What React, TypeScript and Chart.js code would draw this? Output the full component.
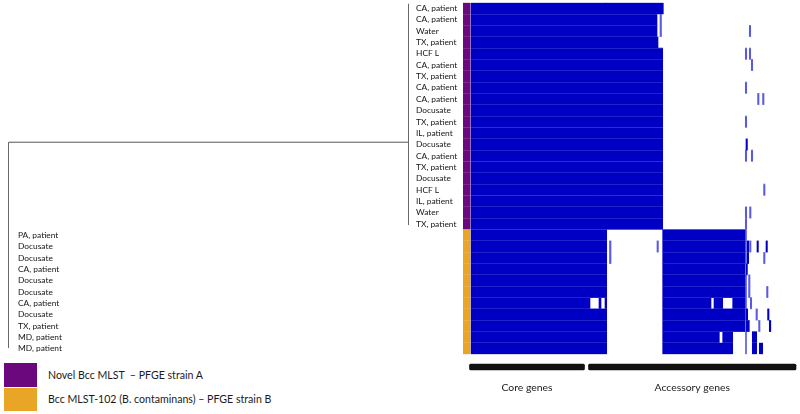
import React, { useEffect, useRef } from 'react';
import { Chart, registerables } from 'chart.js';
Chart.register(...registerables);

// ---------- DATA ----------
const rowLabels = [
  'CA, patient', 'CA, patient', 'Water', 'TX, patient', 'HCF L', 'CA, patient', 'TX, patient',
  'CA, patient', 'CA, patient', 'Docusate', 'TX, patient', 'IL, patient', 'Docusate', 'CA, patient',
  'TX, patient', 'Docusate', 'HCF L', 'IL, patient', 'Water', 'TX, patient',
  'PA, patient', 'Docusate', 'Docusate', 'CA, patient', 'Docusate', 'Docusate', 'CA, patient',
  'Docusate', 'TX, patient', 'MD, patient', 'MD, patient',
];
const rowStrain = [
  'A', 'A', 'A', 'A', 'A', 'A', 'A', 'A', 'A', 'A', 'A', 'A', 'A', 'A', 'A', 'A', 'A', 'A', 'A', 'A',
  'B', 'B', 'B', 'B', 'B', 'B', 'B', 'B', 'B', 'B', 'B',
];
const strainNames = ['Novel Bcc MLST  \u2013 PFGE strain A', 'Bcc MLST-102 (B. contaminans) \u2013 PFGE strain B'];
const strainKeys = ['A', 'B'];

// dendrogram: [distance, row position] polylines; cluster node distance per strain
const dendroLinks = [
  [[0, 11.8], [1, 11.8]],
  [[1, -0.4], [1, 19.1]],
  [[0, 11.8], [0, 29.95]],
];
const clusterNodeDistance = { A: 1, B: 0 };

// gene presence (gene index ranges) per row
const presentSegments = [
  [[0, 192.3]],
  [[0, 186]],
  [[0, 186]],
  [[0, 187]],
  [[0, 191.7]],
  [[0, 191.7]],
  [[0, 191.7]],
  [[0, 191.7]],
  [[0, 191.7]],
  [[0, 191.7]],
  [[0, 191.7]],
  [[0, 191.7]],
  [[0, 191.7], [275, 276.4]],
  [[0, 191.7]],
  [[0, 191.7]],
  [[0, 191.7]],
  [[0, 191.7]],
  [[0, 191.7]],
  [[0, 191.7]],
  [[0, 191.7]],
  [[0, 135.7], [191.7, 274]],
  [[0, 135.7], [191.7, 274], [276.3, 277.7], [286, 287.4], [295, 296.4]],
  [[0, 135.7], [191.7, 274], [276.3, 277.7]],
  [[0, 135.7], [191.7, 274], [275, 276.4]],
  [[0, 135.7], [191.7, 274]],
  [[0, 135.7], [191.7, 274]],
  [[0, 119], [128, 130], [134, 135.7], [191.7, 240], [243, 251.7], [261.7, 274]],
  [[0, 135.7], [191.7, 274], [275.3, 276.7], [296.6, 298]],
  [[0, 135.7], [191.7, 274], [275, 278.3], [298.3, 299.8]],
  [[0, 135.7], [191.7, 248.3], [251.7, 261.7], [281.3, 285.7]],
  [[0, 135.7], [191.7, 261.7], [281.3, 285.7], [288.3, 291.7]],
];
// partially present / variant genes (lighter marks)
const partialSegments = [
  [[134.5, 135.5]],
  [[134.5, 135.5], [189, 190.5]],
  [[134.5, 135.5], [119.5, 120.5], [189, 190.5], [278.3, 279.7]],
  [[134.5, 135.5]],
  [[134.5, 135.5], [274.3, 275.7], [278.3, 279.7]],
  [[134.5, 135.5], [280.3, 281.7]],
  [[134.5, 135.5]],
  [[134.5, 135.5], [274.3, 275.7]],
  [[134.5, 135.5], [189, 190.3], [286.6, 288], [291.6, 293]],
  [[134.5, 135.5]],
  [[134.5, 135.5], [274.3, 275.7]],
  [[134.5, 135.5]],
  [[134.5, 135.5], [120.5, 121.7]],
  [[134.5, 135.5], [274.3, 275.7], [280.3, 281.7]],
  [[134.5, 135.5], [189, 190.3]],
  [[134.5, 135.5], [139.5, 140.5]],
  [[134.5, 135.5], [139.5, 140.5], [124.5, 125.5], [185.8, 186.8], [292.6, 294]],
  [[134.5, 135.5]],
  [[134.5, 135.5], [274.3, 275.7], [278.6, 280]],
  [[134.5, 135.5], [274.3, 275.7]],
  [[274.5, 275.5]],
  [[274.5, 275.5], [278.6, 280], [138.5, 140], [186, 187.4]],
  [[274.5, 275.5], [292.6, 294], [138.5, 140]],
  [],
  [[274.5, 275.5], [277.6, 279]],
  [[274.5, 275.5], [277.6, 279], [295.6, 297]],
  [[274.5, 275.5], [279.3, 280.7]],
  [[274.5, 275.5], [285, 286.4]],
  [[287.6, 289]],
  [[274.5, 275.5]],
  [[274.5, 275.5]],
];
const strainStrip = [-7.7, -1];
const geneAxisRange = [-8, 329];

const geneGroups = ['Core genes', 'Accessory genes'];
const geneGroupRanges = [[-1.5, 113.5], [117.5, 325]];

// ---------- STYLE ----------
const BLUE = '#0000c5';
const PARTIAL = '#5a5ae0';
const strainColors = { A: '#6c087e', B: '#e9a526' };
const FONT = 'Lato, "Open Sans", sans-serif';

function segmentDatasets(segs: number[][][], color: string) {
  const n = Math.max(...segs.map((s) => s.length));
  const out: any[] = [];
  for (let k = 0; k < n; k++) {
    out.push({
      data: segs.map((s) => (s[k] ? s[k] : null)),
      backgroundColor: color,
      borderWidth: 0,
      grouped: false,
      barPercentage: 1,
      categoryPercentage: 1,
    });
  }
  return out;
}

const leafLabelPlugin = {
  id: 'leafLabels',
  afterDatasetsDraw(chart: any) {
    const { ctx, scales } = chart;
    const x = scales.x;
    const y = scales.y;
    ctx.save();
    ctx.font = `8.4px ${FONT}`;
    ctx.fillStyle = '#151515';
    ctx.textAlign = 'left';
    ctx.textBaseline = 'middle';
    rowLabels.forEach((lab, i) => {
      const node = (clusterNodeDistance as any)[rowStrain[i]];
      const gap = rowStrain[i] === 'A' ? 7.5 : 9.5;
      ctx.fillText(lab, x.getPixelForValue(node) + gap, y.getPixelForValue(i));
    });
    ctx.restore();
  },
};

const groupLabelPlugin = {
  id: 'groupLabels',
  afterDatasetsDraw(chart: any) {
    const { ctx, scales, chartArea } = chart;
    ctx.save();
    ctx.font = `10.4px ${FONT}`;
    ctx.fillStyle = '#1a1a1a';
    ctx.textAlign = 'center';
    ctx.textBaseline = 'middle';
    geneGroups.forEach((g, i) => {
      const mid = (geneGroupRanges[i][0] + geneGroupRanges[i][1]) / 2;
      ctx.fillText(g, scales.x.getPixelForValue(mid), chartArea.bottom + 15);
    });
    ctx.restore();
  },
};

export default function App() {
  const dendroRef = useRef<HTMLCanvasElement>(null);
  const heatRef = useRef<HTMLCanvasElement>(null);
  const groupRef = useRef<HTMLCanvasElement>(null);

  useEffect(() => {
    const charts: Chart[] = [];

    charts.push(
      new Chart(dendroRef.current as HTMLCanvasElement, {
        type: 'scatter',
        data: {
          datasets: dendroLinks.map((seg) => ({
            data: seg.map(([x, y]) => ({ x, y })),
            showLine: true,
            borderColor: '#555',
            borderWidth: 1,
            pointRadius: 0,
          })),
        },
        options: {
          responsive: false,
          animation: false,
          layout: { padding: { left: 8.5, right: 54.5, top: 2.7, bottom: 1.7 } },
          plugins: { legend: { display: false }, tooltip: { enabled: false } },
          scales: {
            x: { type: 'linear', min: 0, max: 1, display: false },
            y: { type: 'linear', min: -0.5, max: rowLabels.length - 0.5, reverse: true, display: false },
          },
        },
        plugins: [leafLabelPlugin],
      } as any)
    );

    const heatDatasets = [
      {
        data: rowStrain.map(() => strainStrip),
        backgroundColor: rowStrain.map((s) => (strainColors as any)[s]),
        borderWidth: 0,
        grouped: false,
        barPercentage: 1,
        categoryPercentage: 1,
      },
      ...segmentDatasets(presentSegments, BLUE),
      ...segmentDatasets(partialSegments, PARTIAL),
    ];

    charts.push(
      new Chart(heatRef.current as HTMLCanvasElement, {
        type: 'bar',
        data: { labels: rowLabels.map((_, i) => String(i)), datasets: heatDatasets },
        options: {
          indexAxis: 'y',
          responsive: false,
          animation: false,
          layout: { padding: { left: 0, right: 0, top: 2.7, bottom: 1.7 } },
          plugins: { legend: { display: false }, tooltip: { enabled: false } },
          scales: {
            x: { type: 'linear', min: geneAxisRange[0], max: geneAxisRange[1], display: false },
            y: {
              type: 'category',
              display: true,
              grid: { display: true, z: 1, color: 'rgba(255,255,255,0.13)', drawTicks: false, offset: true },
              ticks: { display: false },
              border: { display: false },
            },
          },
        },
      } as any)
    );

    charts.push(
      new Chart(groupRef.current as HTMLCanvasElement, {
        type: 'bar',
        data: {
          labels: ['genes'],
          datasets: geneGroups.map((g, i) => ({
            label: g,
            data: [geneGroupRanges[i]],
            backgroundColor: '#111',
            barThickness: 6,
            grouped: false,
            borderRadius: 1.5,
            borderSkipped: false,
          })),
        },
        options: {
          indexAxis: 'y',
          responsive: false,
          animation: false,
          layout: { padding: { left: 0, right: 0, top: 5, bottom: 41 } },
          plugins: { legend: { display: false }, tooltip: { enabled: false } },
          scales: {
            x: { type: 'linear', min: geneAxisRange[0], max: geneAxisRange[1], display: false },
            y: { display: false },
          },
        },
        plugins: [groupLabelPlugin],
      } as any)
    );

    return () => charts.forEach((c) => c.destroy());
  }, []);

  return (
    <div style={{ position: 'absolute', left: 0, top: 0, width: 800, height: 414, background: '#fff', overflow: 'hidden' }}>
      <canvas ref={dendroRef} width={463} height={356} style={{ position: 'absolute', left: 0, top: 0, display: 'block' }} />
      <canvas ref={heatRef} width={337} height={356} style={{ position: 'absolute', left: 463, top: 0, display: 'block' }} />
      <canvas ref={groupRef} width={337} height={58} style={{ position: 'absolute', left: 463, top: 356, display: 'block' }} />
      {strainKeys.map((k, i) => (
        <div key={k} style={{ position: 'absolute', left: 4, top: 363 + i * 24, height: 24, display: 'flex', alignItems: 'center' }}>
          <div style={{ width: 33, height: i === 0 ? 24 : 23, background: (strainColors as any)[k] }} />
          <div style={{ marginLeft: 11, font: `10.6px ${FONT}`, color: '#1a1a1a', whiteSpace: 'pre' }}>{strainNames[i]}</div>
        </div>
      ))}
    </div>
  );
}
